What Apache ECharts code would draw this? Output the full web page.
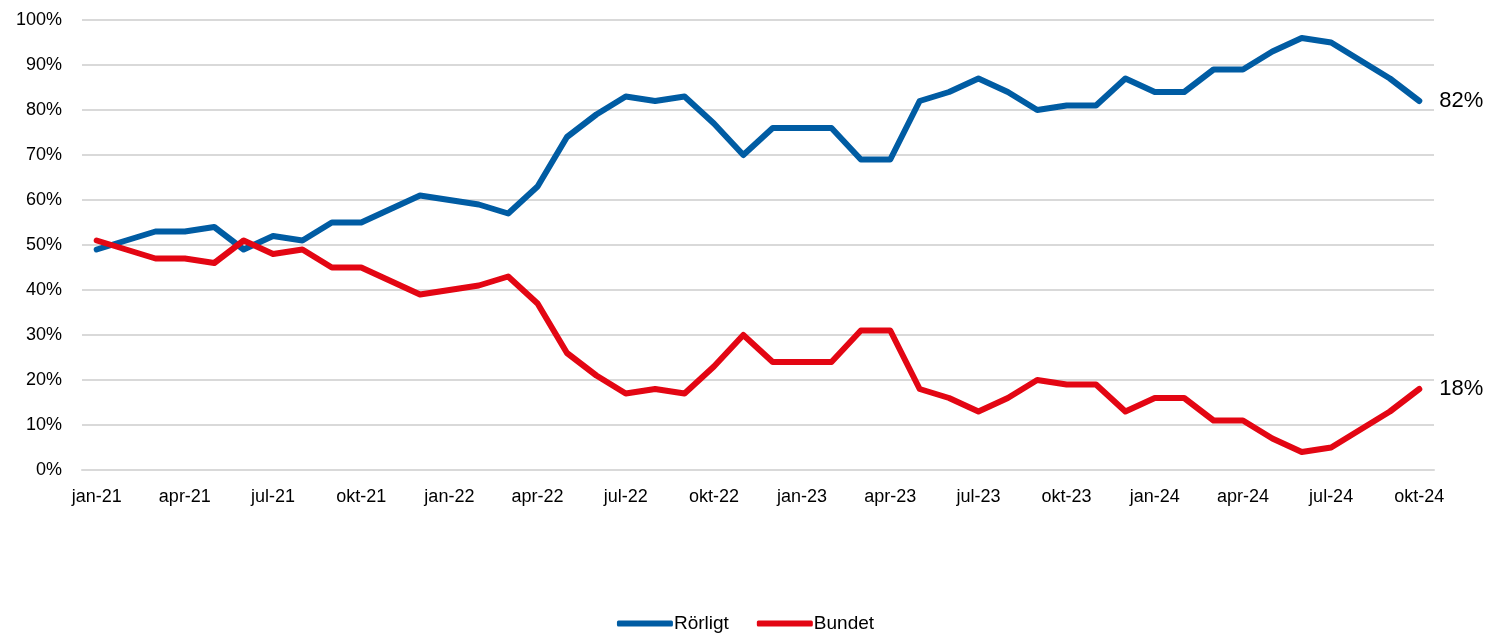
<!DOCTYPE html>
<html>
<head>
<meta charset="utf-8">
<script src="https://cdn.jsdelivr.net/npm/echarts@6/dist/echarts.min.js"></script>
<style>
  html, body { margin: 0; padding: 0; background: #fff; }
  #main { width: 1491px; height: 635px; }
</style>
</head>
<body>
<div id="main"></div>
<script>
// months jan-21 .. okt-24
var months = ['jan-21', 'feb-21', 'mar-21', 'apr-21', 'maj-21', 'jun-21', 'jul-21', 'aug-21', 'sep-21', 'okt-21', 'nov-21', 'dec-21',
    'jan-22', 'feb-22', 'mar-22', 'apr-22', 'maj-22', 'jun-22', 'jul-22', 'aug-22', 'sep-22', 'okt-22', 'nov-22', 'dec-22',
    'jan-23', 'feb-23', 'mar-23', 'apr-23', 'maj-23', 'jun-23', 'jul-23', 'aug-23', 'sep-23', 'okt-23', 'nov-23', 'dec-23',
    'jan-24', 'feb-24', 'mar-24', 'apr-24', 'maj-24', 'jun-24', 'jul-24', 'aug-24', 'sep-24', 'okt-24'];

var rorligt = [49, 51, 53, 53, 54, 49, 52, 51, 55, 55, 58, 61,
    60, 59, 57, 63, 74, 79, 83, 82, 83, 77, 70, 76,
    76, 76, 69, 69, 82, 84, 87, 84, 80, 81, 81, 87,
    84, 84, 89, 89, 93, 96, 95, 91, 87, 82];

var bundet = [51, 49, 47, 47, 46, 51, 48, 49, 45, 45, 42, 39,
    40, 41, 43, 37, 26, 21, 17, 18, 17, 23, 30, 24,
    24, 24, 31, 31, 18, 16, 13, 16, 20, 19, 19, 13,
    16, 16, 11, 11, 7, 4, 5, 9, 13, 18];

var font = '"Liberation Sans", Arial, sans-serif';

var myChart = echarts.init(document.getElementById('main'));

var option = {
    animation: false,
    textStyle: { fontFamily: font },
    grid: {
        left: 82,
        right: 57,
        top: 20,
        bottom: 165
    },
    legend: {
        bottom: -3,
        left: 'center',
        itemWidth: 56,
        itemHeight: 6,
        itemGap: 28,
        icon: 'roundRect',
        textStyle: { fontSize: 19, color: '#000', fontFamily: font, padding: [0, 0, 0, -4] },
        data: ['Rörligt', 'Bundet']
    },
    xAxis: {
        type: 'category',
        boundaryGap: true,
        data: months,
        axisLine: { lineStyle: { color: '#d9d9d9', width: 2 } },
        axisTick: {
            interval: 2,
            length: 6,
            lineStyle: { color: '#d0d0d0', width: 2 }
        },
        axisLabel: {
            interval: 2,
            margin: 18,
            fontSize: 18,
            color: '#000',
            fontFamily: font
        },
        splitLine: { show: false }
    },
    yAxis: {
        type: 'value',
        min: 0,
        max: 100,
        interval: 10,
        axisLine: { show: false },
        axisTick: { show: false },
        axisLabel: {
            formatter: '{value}%',
            margin: 20,
            fontSize: 18,
            color: '#000',
            fontFamily: font
        },
        splitLine: { lineStyle: { color: '#d9d9d9', width: 2 } }
    },
    series: [{
        name: 'Rörligt',
        type: 'line',
        data: rorligt,
        symbol: 'none',
        color: '#005ca3',
        lineStyle: { width: 6, color: '#005ca3', cap: 'round', join: 'round' },
        endLabel: {
            show: true,
            formatter: '{c}%',
            fontSize: 22,
            color: '#000',
            fontFamily: font,
            distance: 20
        }
    }, {
        name: 'Bundet',
        type: 'line',
        data: bundet,
        symbol: 'none',
        color: '#e30613',
        lineStyle: { width: 6, color: '#e30613', cap: 'round', join: 'round' },
        endLabel: {
            show: true,
            formatter: '{c}%',
            fontSize: 22,
            color: '#000',
            fontFamily: font,
            distance: 20
        }
    }]
};

myChart.setOption(option);
</script>
</body>
</html>
